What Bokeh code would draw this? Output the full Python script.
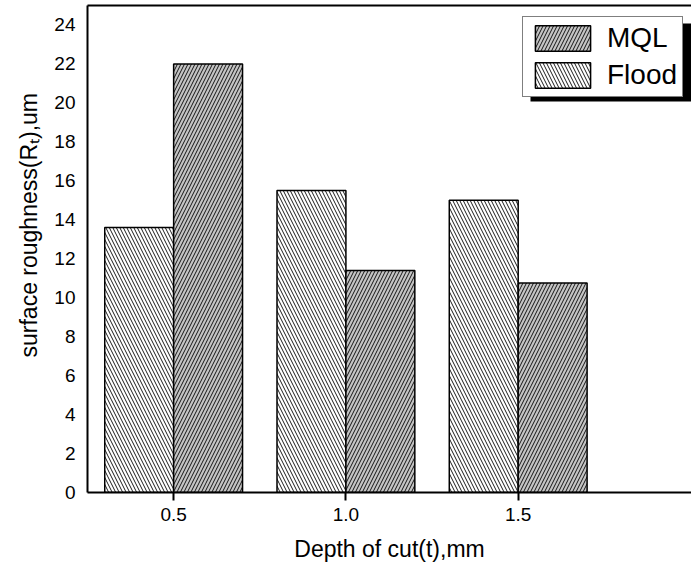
import math
from bokeh.plotting import figure
from bokeh.models import (ColumnDataSource, FixedTicker, LinearAxis, Range1d,
                          Legend, LegendItem, NumeralTickFormatter, Title)
from bokeh.transform import dodge
from bokeh.embed import file_html
from bokeh.resources import INLINE

# ---- data ----
depths = [0.5, 1.0, 1.5]
mql = [22.0, 11.4, 10.75]
flood = [13.6, 15.5, 15.0]
y_ticks = list(range(0, 25, 2))
x_ticks = [0.5, 1.0, 1.5]

FONT = "Liberation Sans"

# ---- layout constants ----
W, H = 691, 579
FL, FB, FT = 87, 492, 5          # frame left / bottom / top (px)
XMIN, XMAX = 0.25, 2.003
YMIN, YMAX = 0, 25

src = ColumnDataSource(dict(depth=depths, mql=mql, flood=flood))

p = figure(width=W, height=H, output_backend="svg", toolbar_location=None,
           x_range=Range1d(XMIN, XMAX), y_range=Range1d(YMIN, YMAX),
           min_border_left=FL, min_border_right=0, min_border_top=FT,
           min_border_bottom=H - FB,
           x_axis_label="Depth of cut(t),mm")
p.grid.visible = False
p.outline_line_color = None
p.background_fill_color = "white"
p.border_fill_color = "white"


def px2x(px):
    return XMIN + (px - FL) * (XMAX - XMIN) / (W - FL)


def py2y(py):
    return YMIN + (FB - py) * (YMAX - YMIN) / (FB - FT)


# legend shadow
p.quad(left=[px2x(530)], right=[px2x(691)], top=[py2y(23)], bottom=[py2y(101)],
       fill_color="black", line_color=None)

r_flood = p.vbar(x=dodge('depth', -0.1, range=p.x_range), top='flood', width=0.2,
                 source=src, fill_color="white", line_color="black", line_width=1.5,
                 hatch_pattern="\\", hatch_color="black", hatch_scale=7,
                 hatch_weight=0.9)
r_mql = p.vbar(x=dodge('depth', 0.1, range=p.x_range), top='mql', width=0.2,
               source=src, fill_color="#c4c4c4", line_color="black", line_width=1.5,
               hatch_pattern="/", hatch_color="black", hatch_scale=7,
               hatch_weight=0.9)

legend = Legend(items=[LegendItem(label="MQL", renderers=[r_mql]),
                       LegendItem(label="Flood", renderers=[r_flood])],
                location=(435, 395), orientation="vertical",
                glyph_width=69, glyph_height=32, padding=5, spacing=5, margin=0,
                label_standoff=10, label_text_font=FONT,
                label_text_font_size="28px", label_text_color="black",
                border_line_color="black", border_line_width=1.5,
                background_fill_color="white", background_fill_alpha=1)
p.add_layout(legend)

# x axis
xa = p.xaxis[0]
xa.ticker = FixedTicker(ticks=x_ticks)
xa.formatter = NumeralTickFormatter(format="0.0")
xa.axis_line_width = 2
xa.major_tick_out = 8
xa.major_tick_in = 0
xa.major_tick_line_width = 2
xa.minor_tick_line_color = None
xa.major_label_standoff = 7
xa.major_label_text_font = FONT
xa.major_label_text_font_size = "19px"
xa.major_label_text_color = "black"
xa.axis_label_text_font = FONT
xa.axis_label_text_font_size = "23px"
xa.axis_label_text_font_style = "normal"
xa.axis_label_text_color = "black"
xa.axis_label_standoff = 12

# y axis
ya = p.yaxis[0]
ya.ticker = FixedTicker(ticks=y_ticks)
ya.axis_line_width = 2
ya.major_tick_line_color = None
ya.major_tick_out = 0
ya.major_tick_in = 0
ya.minor_tick_line_color = None
ya.major_label_standoff = 12
ya.major_label_text_font = FONT
ya.major_label_text_font_size = "19px"
ya.major_label_text_color = "black"

# y axis title as a left-side title (allows an offset along the axis)
p.add_layout(Title(text="surface roughness(R\u209c),um", align="left", offset=135,
                   text_font=FONT, text_font_size="23px", text_font_style="normal",
                   text_color="black", standoff=20), "left")

# top border line
top_axis = LinearAxis(ticker=FixedTicker(ticks=[]), major_label_text_font_size="0px",
                      major_tick_out=0, major_tick_in=0, minor_tick_out=0,
                      minor_tick_in=0, axis_line_width=2, major_label_standoff=0)
p.add_layout(top_axis, "above")

open("out.html", "w").write(file_html(p, INLINE))
